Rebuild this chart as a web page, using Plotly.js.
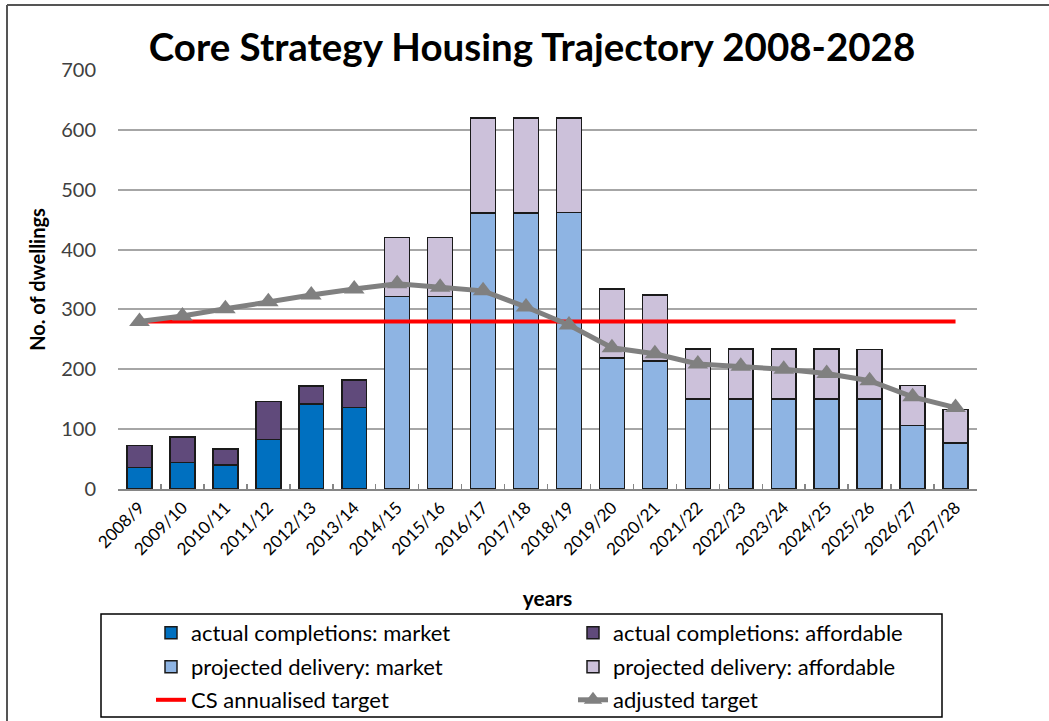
<!DOCTYPE html>
<html>
<head>
<meta charset="utf-8">
<script src="https://cdn.plot.ly/plotly-3.0.1.min.js"></script>
<style>html,body{margin:0;padding:0;background:#fff;}#chart{width:1049px;height:721px;}</style>
</head>
<body>
<div id="chart"></div>
<script>
const categories = ['2008/9','2009/10','2010/11','2011/12','2012/13','2013/14','2014/15','2015/16','2016/17','2017/18','2018/19','2019/20','2020/21','2021/22','2022/23','2023/24','2024/25','2025/26','2026/27','2027/28'];
const actualMarket = [36,44,40,83,142,136,null,null,null,null,null,null,null,null,null,null,null,null,null,null];
const actualAffordable = [37,43,27,63,30,46,null,null,null,null,null,null,null,null,null,null,null,null,null,null];
const projectedMarket = [null,null,null,null,null,null,322,322,461,461,462,219,214,150,150,150,150,150,106,77];
const projectedAffordable = [null,null,null,null,null,null,98,98,159,159,158,115,110,84,84,84,84,83,67,56];
const csTarget = [280,280,280,280,280,280,280,280,280,280,280,280,280,280,280,280,280,280,280,280];
const adjustedTarget = [280,289,301,313,324,334,343,337,331,304,274,236,226,209,205,200,193,181,154,136];

const FONT = 'Lato, "Open Sans", sans-serif';
const barLine = {color:'#1a1a1a', width:1.5};

const traces = [
  {type:'bar', name:'actual completions: market', x:categories, y:actualMarket, marker:{color:'#0070C0', line:barLine}, legend:'legend'},
  {type:'bar', name:'actual completions: affordable', x:categories, y:actualAffordable, marker:{color:'#604A7B', line:barLine}, legend:'legend2'},
  {type:'bar', name:'projected delivery: market', x:categories, y:projectedMarket, marker:{color:'#8EB4E3', line:barLine}, legend:'legend3'},
  {type:'bar', name:'projected delivery: affordable', x:categories, y:projectedAffordable, marker:{color:'#CCC1DA', line:barLine}, legend:'legend4'},
  {type:'scatter', mode:'lines', name:'CS annualised target', x:categories, y:csTarget, line:{color:'#FF0000', width:4}, legend:'legend5'},
  {type:'scatter', mode:'lines+markers', name:'adjusted target', x:categories, y:adjustedTarget, line:{color:'#808080', width:5}, marker:{symbol:'triangle-up', size:18, color:'#808080'}, legend:'legend6'}
];

const W = 859, H = 419, L = 118, T = 70;
const px = v => (v - L) / W;
const py = v => (T + H - v) / H;

function leg(x, y){
  return {orientation:'h', x:px(x), xanchor:'left', y:py(y), yanchor:'middle',
    font:{family:FONT, size:22, color:'#000'}, bgcolor:'rgba(0,0,0,0)', borderwidth:0};
}

const layout = {
  width:1049, height:721,
  margin:{l:L, r:1049-L-W, t:T, b:721-T-H, autoexpand:false},
  paper_bgcolor:'#fff', plot_bgcolor:'#fff',
  barmode:'stack', bargap:0.42,
  font:{family:FONT, color:'#000'},
  title:{text:'<b>Core Strategy Housing Trajectory 2008-2028</b>', font:{family:FONT, size:38.5, color:'#000'},
    xref:'container', x:532/1049, xanchor:'center', yref:'container', y:1-48/721, yanchor:'middle'},
  xaxis:{type:'category', range:[-0.5,19.5], showline:true, linecolor:'#868686', linewidth:2, ticks:'inside', tickson:'boundaries',
    ticklen:5, tickcolor:'#868686', tickwidth:1.5, showgrid:false, tickangle:-45,
    tickfont:{family:FONT, size:17, color:'#000'},
    title:{text:'<b>years</b>', font:{family:FONT, size:21, color:'#000'}, standoff:33}},
  yaxis:{range:[0,700], dtick:100, showgrid:true, gridcolor:'#a6a6a6', gridwidth:2, zeroline:false, showline:false,
    ticks:'', ticklabelstandoff:21, tickfont:{family:FONT, size:20, color:'#404040'},
    title:{text:'<b>No. of dwellings</b>', font:{family:FONT, size:20, color:'#000'}, standoff:10}},
  legend:leg(151,633), legend2:leg(573,633),
  legend3:leg(151,667), legend4:leg(573,667),
  legend5:leg(151,700), legend6:leg(573,700),
  shapes:[
    {type:'rect', xref:'paper', yref:'paper', x0:px(101), x1:px(942), y0:py(717), y1:py(614), line:{color:'#000', width:1.5}, fillcolor:'rgba(0,0,0,0)'},
    {type:'line', xref:'paper', yref:'paper', x0:px(7), x1:px(1049), y0:py(5), y1:py(5), line:{color:'#555', width:2}},
    {type:'line', xref:'paper', yref:'paper', x0:px(7), x1:px(7), y0:py(5), y1:py(721), line:{color:'#555', width:2}}
  ],
  showlegend:true
};

Plotly.newPlot('chart', traces, layout, {displayModeBar:false, staticPlot:true});
</script>
</body>
</html>
